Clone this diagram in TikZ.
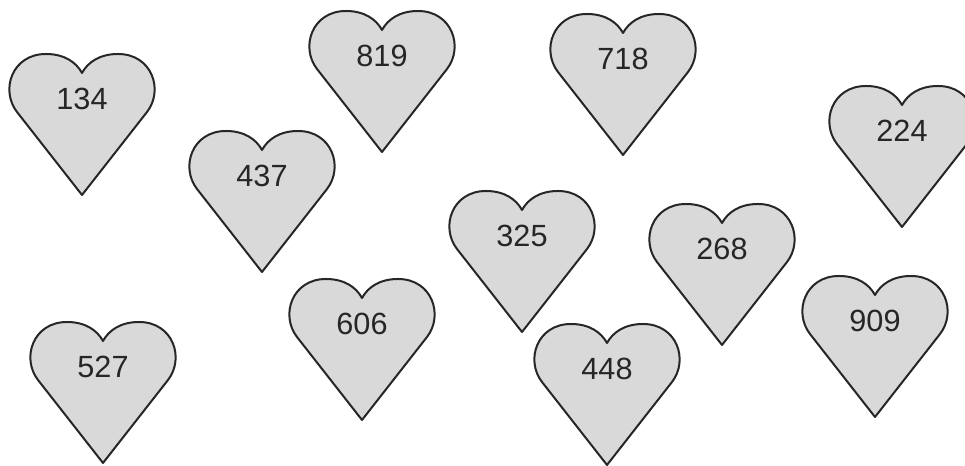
\documentclass[tikz,border=0pt]{standalone}
\usepackage{fontspec}
\setmainfont{Liberation Sans}
\usepackage{tikz}
\tikzset{
  hrt/.style={draw=black!85, fill=black!15, line width=1.5pt, line join=round},
  num/.style={inner sep=0pt, font=\fontsize{23}{26}\selectfont, text=black!85},
  heart/.pic={
    \path[hrt] (0,-96) -- (-65,-13)
      .. controls (-82,9) and (-70,45) .. (-36,45)
      .. controls (-18,45) and (-6,37) .. (0,26)
      .. controls (6,37) and (18,45) .. (36,45)
      .. controls (70,45) and (82,9) .. (65,-13) -- cycle;
    \node[num] (-num) at (0,0) {#1};
  },
}

\begin{document}
\begin{tikzpicture}[x=0.75pt, y=0.75pt]
  \useasboundingbox (0,0) rectangle (965,466);
  \pic (h134) at (82,367) {heart=134};
  \pic (h819) at (382,410) {heart=819};
  \pic (h718) at (623,407) {heart=718};
  \pic (h224) at (902,335) {heart=224};
  \pic (h437) at (262,290) {heart=437};
  \pic (h325) at (522,230) {heart=325};
  \pic (h268) at (722,217) {heart=268};
  \pic (h909) at (875,145) {heart=909};
  \pic (h606) at (362,142) {heart=606};
  \pic (h527) at (103,99) {heart=527};
  \pic (h448) at (607,97) {heart=448};
\end{tikzpicture}
\end{document}
